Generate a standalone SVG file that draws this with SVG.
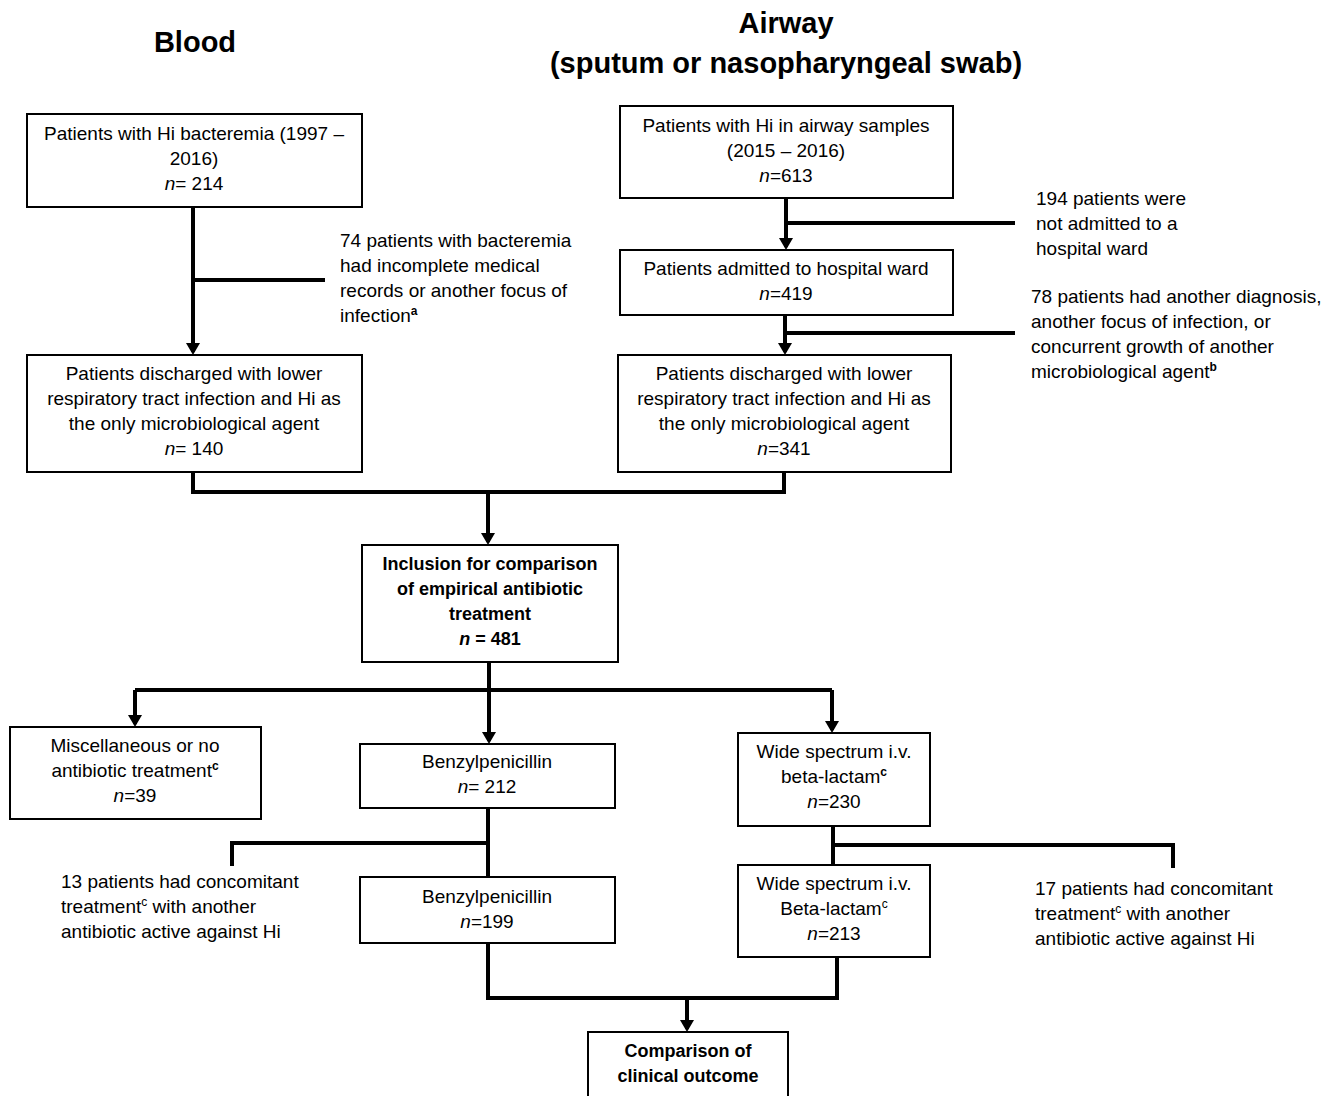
<svg xmlns="http://www.w3.org/2000/svg" width="1336" height="1096" viewBox="0 0 1336 1096">
<style>
.bg{fill:#fff}
.box{fill:#fff;stroke:#000;stroke-width:2}
.t{font-family:"Liberation Sans",Arial,sans-serif;font-size:19px;fill:#000}
.c{text-anchor:middle}
.b{font-weight:bold;font-size:18px}
.h{font-family:"Liberation Sans",Arial,sans-serif;font-size:29px;font-weight:bold;fill:#000;text-anchor:middle}
.ln{fill:none;stroke:#000;stroke-width:4}
.ar{marker-end:url(#ah)}
.sup{font-size:12px}
</style>
<defs>
<marker id="ah" markerUnits="userSpaceOnUse" markerWidth="12" markerHeight="14" refX="9" refY="7" orient="auto" viewBox="0 0 12 14">
<path d="M0,0 L12,7 L0,14 z" fill="#000"/>
</marker>
</defs>
<rect class="bg" x="0" y="0" width="1336" height="1096"/>
<g id="titles">
<text class="h" x="195" y="52">Blood</text>
<text class="h" x="786" y="33">Airway</text>
<text class="h" x="786" y="73">(sputum or nasopharyngeal swab)</text>
</g>
<g id="connectors">
<path class="ln ar" d="M193,207 V352"/>
<path class="ln" d="M193,280 H325"/>
<path class="ln ar" d="M786,198 V247"/>
<path class="ln" d="M786,223 H1015"/>
<path class="ln ar" d="M785,315 V352"/>
<path class="ln" d="M785,333 H1015"/>
<path class="ln" d="M193,472 V492 H784 V472"/>
<path class="ln ar" d="M488,492 V542"/>
<path class="ln ar" d="M489,662 V741"/>
<path class="ln" d="M135,690 H832"/>
<path class="ln ar" d="M135,690 V724"/>
<path class="ln ar" d="M832,690 V730"/>
<path class="ln" d="M488,808 V877"/>
<path class="ln" d="M488,843 H232 V866"/>
<path class="ln" d="M833,826 V865"/>
<path class="ln" d="M833,845 H1173 V868"/>
<path class="ln" d="M488,943 V998 H837 V957"/>
<path class="ln ar" d="M687,998 V1029"/>
</g>
<g id="blood-start">
<rect class="box" x="27" y="114" width="335" height="93"/>
<text class="t c" x="194" y="140">Patients with Hi bacteremia (1997 –</text>
<text class="t c" x="194" y="165">2016)</text>
<text class="t c" x="194" y="190"><tspan font-style="italic">n</tspan>= 214</text>
</g>
<g id="blood-exclusion">
<text class="t" x="340" y="247">74 patients with bacteremia</text>
<text class="t" x="340" y="272">had incomplete medical</text>
<text class="t" x="340" y="297">records or another focus of</text>
<text class="t" x="340" y="322">infection<tspan class="sup" font-weight="bold" dy="-7">a</tspan></text>
</g>
<g id="blood-discharged">
<rect class="box" x="27" y="355" width="335" height="117"/>
<text class="t c" x="194" y="380">Patients discharged with lower</text>
<text class="t c" x="194" y="405">respiratory tract infection and Hi as</text>
<text class="t c" x="194" y="430">the only microbiological agent</text>
<text class="t c" x="194" y="455"><tspan font-style="italic">n</tspan>= 140</text>
</g>
<g id="airway-start">
<rect class="box" x="620" y="106" width="333" height="92"/>
<text class="t c" x="786" y="132">Patients with Hi in airway samples</text>
<text class="t c" x="786" y="157">(2015 – 2016)</text>
<text class="t c" x="786" y="182"><tspan font-style="italic">n</tspan>=613</text>
</g>
<g id="airway-exclusion1">
<text class="t" x="1036" y="205">194 patients were</text>
<text class="t" x="1036" y="230">not admitted to a</text>
<text class="t" x="1036" y="255">hospital ward</text>
</g>
<g id="airway-admitted">
<rect class="box" x="620" y="250" width="333" height="65"/>
<text class="t c" x="786" y="275">Patients admitted to hospital ward</text>
<text class="t c" x="786" y="300"><tspan font-style="italic">n</tspan>=419</text>
</g>
<g id="airway-exclusion2">
<text class="t" x="1031" y="303">78 patients had another diagnosis,</text>
<text class="t" x="1031" y="328">another focus of infection, or</text>
<text class="t" x="1031" y="353">concurrent growth of another</text>
<text class="t" x="1031" y="378">microbiological agent<tspan class="sup" font-weight="bold" dy="-7">b</tspan></text>
</g>
<g id="airway-discharged">
<rect class="box" x="618" y="355" width="333" height="117"/>
<text class="t c" x="784" y="380">Patients discharged with lower</text>
<text class="t c" x="784" y="405">respiratory tract infection and Hi as</text>
<text class="t c" x="784" y="430">the only microbiological agent</text>
<text class="t c" x="784" y="455"><tspan font-style="italic">n</tspan>=341</text>
</g>
<g id="inclusion">
<rect class="box" x="362" y="545" width="256" height="117"/>
<text class="t c b" x="490" y="570">Inclusion for comparison</text>
<text class="t c b" x="490" y="595">of empirical antibiotic</text>
<text class="t c b" x="490" y="620">treatment</text>
<text class="t c b" x="490" y="645"><tspan font-style="italic">n</tspan> = 481</text>
</g>
<g id="misc">
<rect class="box" x="10" y="727" width="251" height="92"/>
<text class="t c" x="135" y="752">Miscellaneous or no</text>
<text class="t c" x="135" y="777">antibiotic treatment<tspan class="sup" font-weight="bold" dy="-7">c</tspan></text>
<text class="t c" x="135" y="802"><tspan font-style="italic">n</tspan>=39</text>
</g>
<g id="benzyl1">
<rect class="box" x="360" y="744" width="255" height="64"/>
<text class="t c" x="487" y="768">Benzylpenicillin</text>
<text class="t c" x="487" y="793"><tspan font-style="italic">n</tspan>= 212</text>
</g>
<g id="wide1">
<rect class="box" x="738" y="733" width="192" height="93"/>
<text class="t c" x="834" y="758">Wide spectrum i.v.</text>
<text class="t c" x="834" y="783">beta-lactam<tspan class="sup" font-weight="bold" dy="-7">c</tspan></text>
<text class="t c" x="834" y="808"><tspan font-style="italic">n</tspan>=230</text>
</g>
<g id="benzyl-exclusion">
<text class="t" x="61" y="888">13 patients had concomitant</text>
<text class="t" x="61" y="913">treatment<tspan class="sup" dy="-7">c</tspan><tspan dy="7"> with another</tspan></text>
<text class="t" x="61" y="938">antibiotic active against Hi</text>
</g>
<g id="benzyl2">
<rect class="box" x="360" y="877" width="255" height="66"/>
<text class="t c" x="487" y="903">Benzylpenicillin</text>
<text class="t c" x="487" y="928"><tspan font-style="italic">n</tspan>=199</text>
</g>
<g id="wide2">
<rect class="box" x="738" y="865" width="192" height="92"/>
<text class="t c" x="834" y="890">Wide spectrum i.v.</text>
<text class="t c" x="834" y="915">Beta-lactam<tspan class="sup" dy="-7">c</tspan></text>
<text class="t c" x="834" y="940"><tspan font-style="italic">n</tspan>=213</text>
</g>
<g id="wide-exclusion">
<text class="t" x="1035" y="895">17 patients had concomitant</text>
<text class="t" x="1035" y="920">treatment<tspan class="sup" dy="-7">c</tspan><tspan dy="7"> with another</tspan></text>
<text class="t" x="1035" y="945">antibiotic active against Hi</text>
</g>
<g id="comparison">
<rect class="box" x="588" y="1032" width="200" height="80"/>
<text class="t c b" x="688" y="1057">Comparison of</text>
<text class="t c b" x="688" y="1082">clinical outcome</text>
</g>
</svg>
